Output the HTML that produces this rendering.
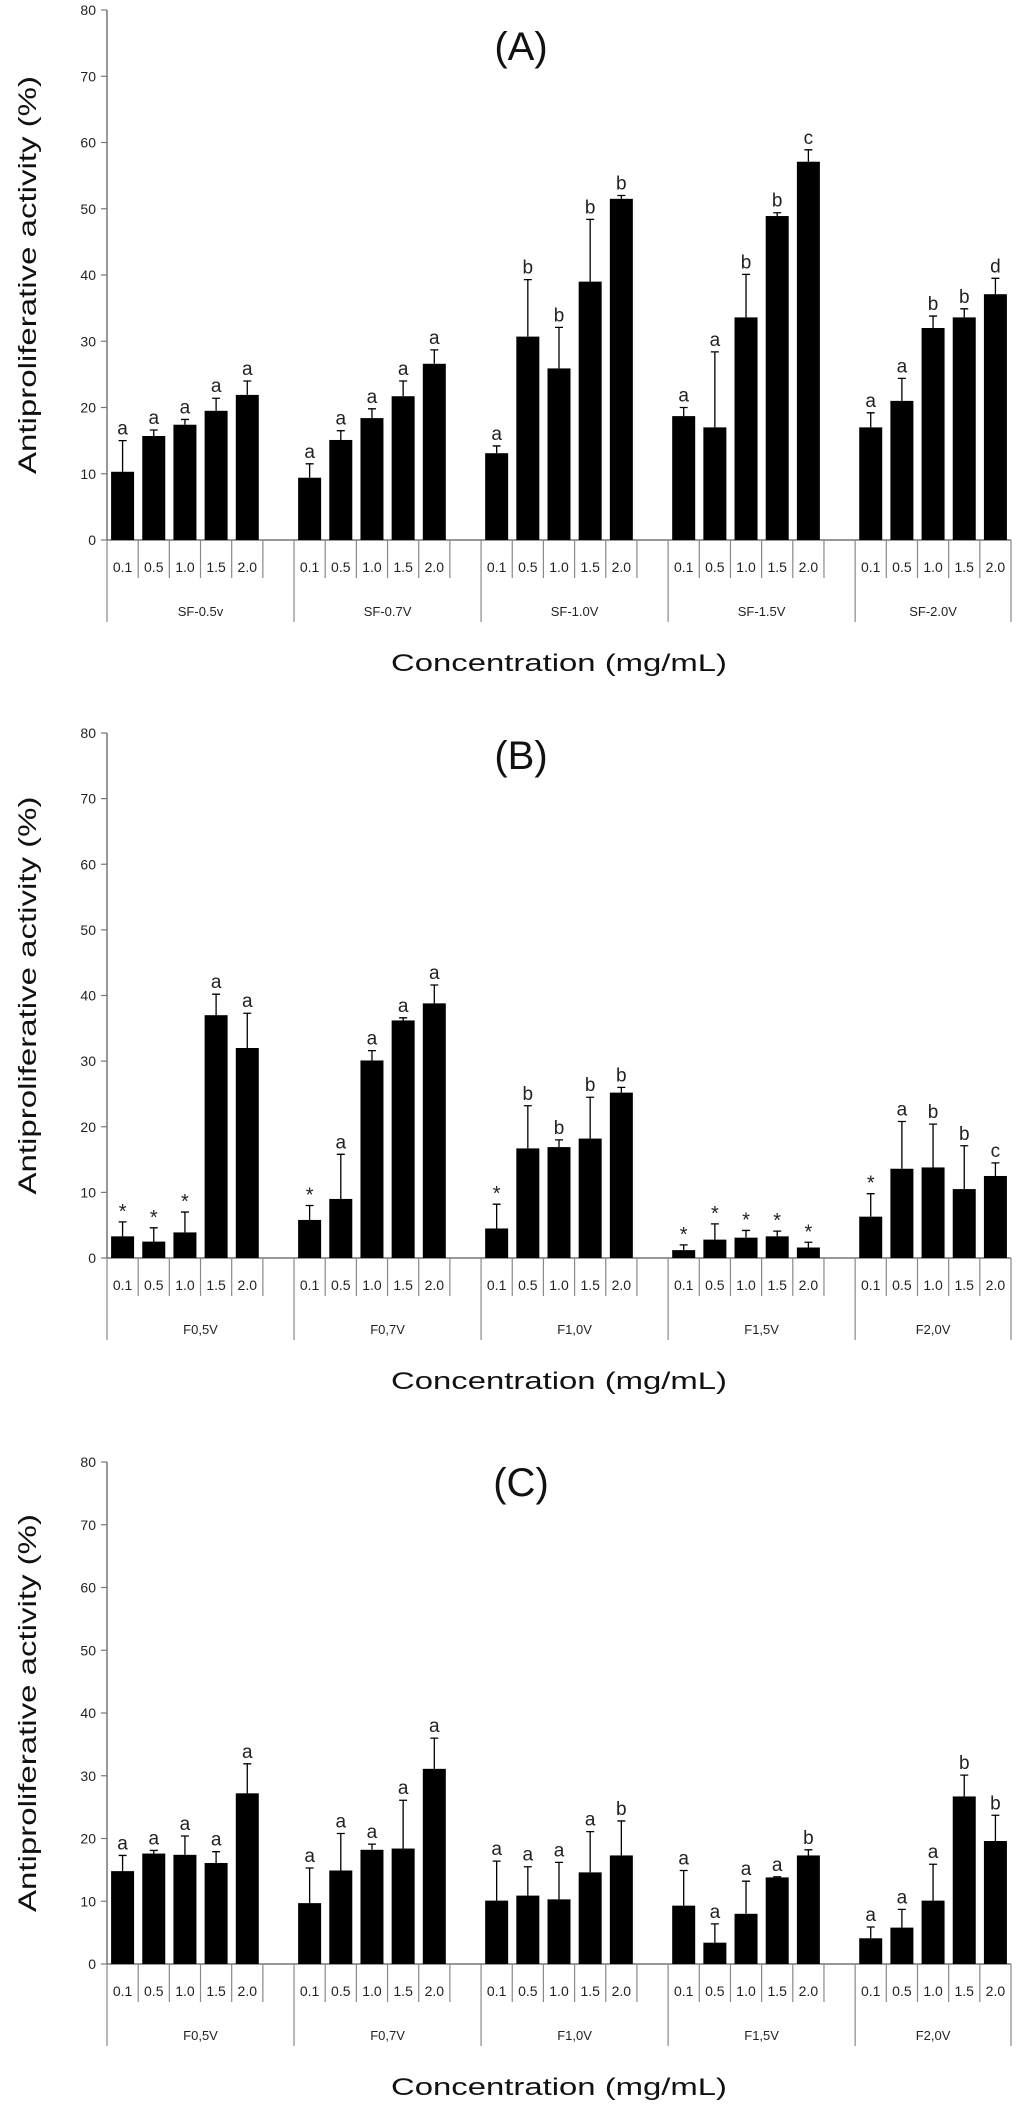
<!DOCTYPE html>
<html><head><meta charset="utf-8"><style>
html,body{margin:0;padding:0;background:#fff;}
svg{display:block;font-family:"Liberation Sans",sans-serif;}
</style></head><body>
<svg id="chart" width="1024" height="2105" viewBox="0 0 1024 2105" xmlns="http://www.w3.org/2000/svg"></svg>
<script>
const concLabels = ["0.1","0.5","1.0","1.5","2.0"];
const yTicks = [0,10,20,30,40,50,60,70,80];
const groupsA = ["SF-0.5v","SF-0.7V","SF-1.0V","SF-1.5V","SF-2.0V"];
const groupsB = ["F0,5V","F0,7V","F1,0V","F1,5V","F2,0V"];
const groupsC = ["F0,5V","F0,7V","F1,0V","F1,5V","F2,0V"];
const valuesA = [[10.3,15.7,17.4,19.5,21.9],[9.4,15.1,18.4,21.7,26.6],[13.1,30.7,25.9,39.0,51.5],[18.7,17.0,33.6,48.9,57.1],[17.0,21.0,32.0,33.6,37.1]];
const errTopA = [[15.0,16.6,18.2,21.4,24.0],[11.5,16.5,19.8,24.0,28.7],[14.2,39.3,32.1,48.4,52.0],[20.0,28.4,40.1,49.4,58.9],[19.2,24.4,33.8,34.9,39.5]];
const lettersA = [["a","a","a","a","a"],["a","a","a","a","a"],["a","b","b","b","b"],["a","a","b","b","c"],["a","a","b","b","d"]];
const valuesB = [[3.3,2.5,3.9,37.0,32.0],[5.8,9.0,30.1,36.2,38.8],[4.5,16.7,16.9,18.2,25.2],[1.2,2.8,3.1,3.3,1.6],[6.3,13.6,13.8,10.5,12.5]];
const errTopB = [[5.5,4.6,7.0,40.2,37.3],[8.0,15.8,31.6,36.6,41.6],[8.2,23.2,18.0,24.5,26.0],[2.0,5.2,4.2,4.1,2.4],[9.8,20.8,20.4,17.1,14.5]];
const lettersB = [["*","*","*","a","a"],["*","a","a","a","a"],["*","b","b","b","b"],["*","*","*","*","*"],["*","a","b","b","c"]];
const valuesC = [[14.8,17.6,17.4,16.1,27.2],[9.7,14.9,18.2,18.4,31.1],[10.1,10.9,10.3,14.6,17.3],[9.3,3.4,8.0,13.8,17.3],[4.1,5.8,10.1,26.7,19.6]];
const errTopC = [[17.3,18.1,20.4,17.9,31.9],[15.3,20.8,19.1,26.1,36.0],[16.4,15.5,16.2,21.1,22.8],[14.9,6.4,13.2,13.9,18.2],[5.9,8.7,15.9,30.1,23.7]];
const lettersC = [["a","a","a","a","a"],["a","a","a","a","a"],["a","a","a","a","b"],["a","a","a","a","b"],["a","a","a","b","b"]];

const NS = "http://www.w3.org/2000/svg";
const svg = document.getElementById("chart");
function mk(tag, attrs, parent, text){
  const e = document.createElementNS(NS, tag);
  for (const k in attrs) e.setAttribute(k, attrs[k]);
  if (text !== undefined) e.textContent = text;
  (parent || svg).appendChild(e);
  return e;
}
const AX = 107, SLOT = (1011 - 107) / 29, BW = 23;

function panel(id, title, y0, y80, titleY, groups, vals, errs, letters){
  const g = mk("g", {});
  
  
  const ys = v => y0 - (v / 80) * (y0 - y80);
  const xs = (gi, bi) => AX + (gi * 6 + bi + 0.5) * SLOT;
  const t = mk("text", {x:521, y:titleY + 14, "font-size":40, "text-anchor":"middle", fill:"#111"}, g, "(" + title + ")");
  
  
  // y axis
  const ya = mk("line", {x1:AX, y1:y80, x2:AX, y2:y0, stroke:"#777", "stroke-width":1.5}, g);
  
  
  yTicks.forEach(v => {
    const y = ys(v);
    mk("line", {x1:AX - 6, y1:y, x2:AX, y2:y, stroke:"#777", "stroke-width":1.2}, g);
    const tl = mk("text", {x:AX - 11, y:y + 5, "font-size":14, "text-anchor":"end", fill:"#222"}, g, String(v));
    
    
  });
  const yt = mk("text", {x:0, y:0, "font-size":25, "text-anchor":"middle", fill:"#111",
    transform:"translate(36," + ((y0 + y80) / 2) + ") rotate(-90)", textLength:398, lengthAdjust:"spacingAndGlyphs"}, g, "Antiproliferative activity (%)");
  
  
  // x axis
  const xa = mk("line", {x1:AX, y1:y0, x2:1011, y2:y0, stroke:"#777", "stroke-width":1.5}, g);
  
  
  for (let s = 0; s <= 29; s++){
    const x = AX + s * SLOT;
    const gi = Math.floor(s / 6), bi = s % 6;
    const isGroupEdge = (bi === 0) || s === 29;
    mk("line", {x1:x, y1:y0, x2:x, y2:y0 + (isGroupEdge ? 82 : 38), stroke:"#888", "stroke-width":1.2}, g);
  }
  groups.forEach((name, gi) => {
    concLabels.forEach((c, bi) => {
      const cl = mk("text", {x:xs(gi, bi), y:y0 + 32, "font-size":14, "text-anchor":"middle", fill:"#222"}, g, c);
      
      
    });
    const gx = gi < 4 ? AX + (gi * 6 + 3) * SLOT : AX + (24 + 2.5) * SLOT;
    const gl = mk("text", {x:gx, y:y0 + 76, "font-size":13, "text-anchor":"middle", fill:"#222"}, g, name);
    
    
    vals[gi].forEach((v, bi) => {
      const cx = xs(gi, bi);
      const bar = mk("rect", {x:cx - BW / 2, y:ys(v), width:BW, height:y0 - ys(v), fill:"#000"}, g);
      
      
      const et = ys(errs[gi][bi]);
      const eb = mk("path", {d:"M" + cx + " " + ys(v) + "V" + et + "M" + (cx - 4) + " " + et + "H" + (cx + 4), stroke:"#000", "stroke-width":1.3, fill:"none"}, g);
      
      
      const L = letters[gi][bi];
      const lt = mk("text", {x:cx, y:et - (L === "*" ? 4 : 6), "font-size": L === "*" ? 20 : 19, "text-anchor":"middle", fill:"#222"}, g, L);
      
      
    });
  });
  const xt = mk("text", {x:559, y:y0 + 131, "font-size":24, "text-anchor":"middle", fill:"#111", textLength:336, lengthAdjust:"spacingAndGlyphs"}, g, "Concentration (mg/mL)");
  
  
}
panel("a", "A", 540, 10, 46, groupsA, valuesA, errTopA, lettersA);
panel("b", "B", 1258, 733, 755, groupsB, valuesB, errTopB, lettersB);
panel("c", "C", 1964, 1462, 1482, groupsC, valuesC, errTopC, lettersC);
</script>
</body></html>
